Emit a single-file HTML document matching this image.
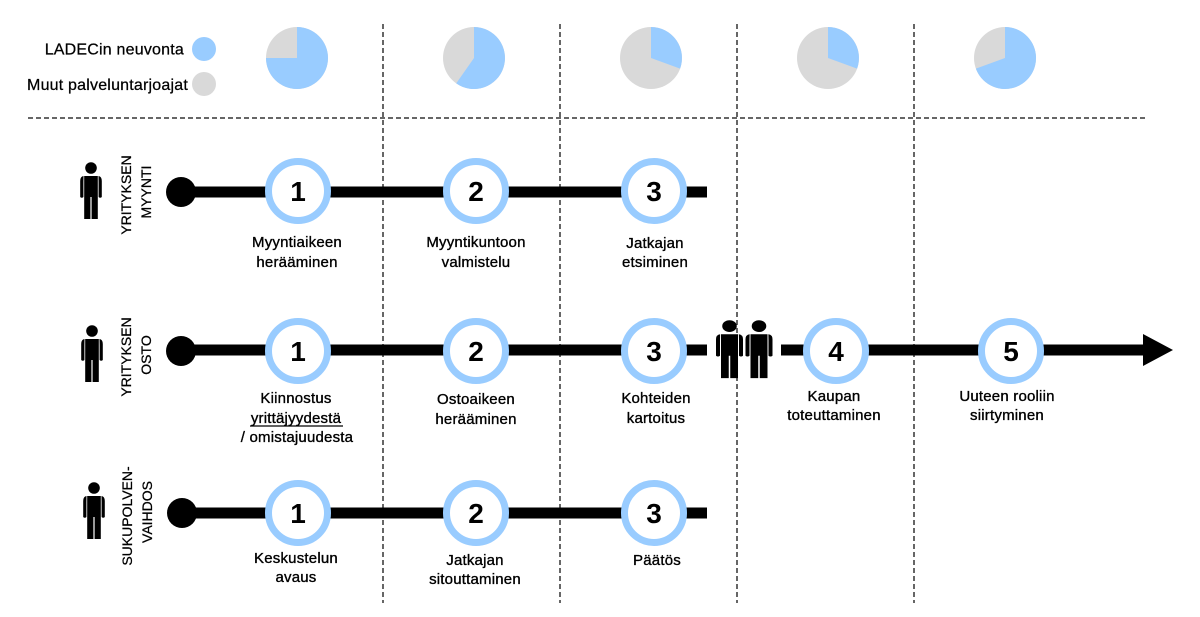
<!DOCTYPE html>
<html>
<head>
<meta charset="utf-8">
<style>
  html, body { margin:0; padding:0; background:#fff; }
  svg { display:block; }
  .lbl { font-family:"Liberation Sans", sans-serif; font-size:15px; fill:#000; letter-spacing:0.2px; text-anchor:middle; stroke:#000; stroke-width:0.35px; }
  .num { font-family:"Liberation Sans", sans-serif; font-size:28px; font-weight:bold; fill:#000; text-anchor:middle; }
  .vt { font-family:"Liberation Sans", sans-serif; font-size:14px; fill:#000; text-anchor:middle; stroke:#000; stroke-width:0.25px; }
  .leg { font-family:"Liberation Sans", sans-serif; font-size:16px; fill:#000; letter-spacing:0.2px; text-anchor:end; stroke:#000; stroke-width:0.25px; }
</style>
</head>
<body>
<svg width="1200" height="617" viewBox="0 0 1200 617" xmlns="http://www.w3.org/2000/svg">
  <defs>
    <g id="person">
      <circle cx="0" cy="6" r="5.8" fill="#000"/>
      <path fill="#000" d="M -6.8,14 L 6.8,14 L 6.8,57 L 0.6,57 L 0.6,35 L -0.6,35 L -0.6,57 L -6.8,57 Z"/>
      <path fill="#000" d="M -7.5,14 Q -10.8,14.5 -10.8,19 L -10.8,35 Q -9.2,36.5 -7.6,35 L -7.6,20 Z"/>
      <path fill="#000" d="M 7.5,14 Q 10.8,14.5 10.8,19 L 10.8,35 Q 9.2,36.5 7.6,35 L 7.6,20 Z"/>
    </g>
  </defs>

  <!-- dashed grid lines -->
  <g stroke="#333" stroke-width="1.5" stroke-dasharray="5 3" fill="none">
    <line x1="28" y1="118" x2="1147" y2="118"/>
    <line x1="383" y1="24" x2="383" y2="603"/>
    <line x1="560" y1="24" x2="560" y2="603"/>
    <line x1="737" y1="24" x2="737" y2="603"/>
    <line x1="914" y1="24" x2="914" y2="603"/>
  </g>

  <!-- legend -->
  <text class="leg" x="184" y="54.5">LADECin neuvonta</text>
  <circle cx="204" cy="49" r="12" fill="#99CCFF"/>
  <text class="leg" x="188" y="90">Muut palveluntarjoajat</text>
  <circle cx="204" cy="84" r="12" fill="#D9D9D9"/>

  <!-- pies -->
  <circle cx="297" cy="58" r="31" fill="#D9D9D9"/>
  <path d="M297,58 L297,27 A31,31 0 1,1 266,58 Z" fill="#99CCFF"/>

  <circle cx="474" cy="58" r="31" fill="#D9D9D9"/>
  <path d="M474,58 L474,27 A31,31 0 1,1 456.2,83.4 Z" fill="#99CCFF"/>

  <circle cx="651" cy="58" r="31" fill="#D9D9D9"/>
  <path d="M651,58 L651,27 A31,31 0 0,1 680.1,68.6 Z" fill="#99CCFF"/>

  <circle cx="828" cy="58" r="31" fill="#D9D9D9"/>
  <path d="M828,58 L828,27 A31,31 0 0,1 857.1,68.6 Z" fill="#99CCFF"/>

  <circle cx="1005" cy="58" r="31" fill="#D9D9D9"/>
  <path d="M1005,58 L1005,27 A31,31 0 1,1 975.9,68.6 Z" fill="#99CCFF"/>

  <!-- ROW 1 -->
  <use href="#person" x="91" y="162"/>
  <text class="vt" transform="translate(126,195) rotate(-90)" dy="0.36em">YRITYKSEN</text>
  <text class="vt" transform="translate(146,192) rotate(-90)" dy="0.36em">MYYNTI</text>
  <line x1="181" y1="192" x2="707" y2="192" stroke="#000" stroke-width="11"/>
  <circle cx="181" cy="192" r="15" fill="#000"/>
  <g fill="#fff" stroke="#99CCFF" stroke-width="7">
    <circle cx="298" cy="191" r="29.5"/>
    <circle cx="476" cy="191" r="29.5"/>
    <circle cx="654" cy="191" r="29.5"/>
  </g>
  <text class="num" x="298" y="201">1</text>
  <text class="num" x="476" y="201">2</text>
  <text class="num" x="654" y="201">3</text>
  <text class="lbl" x="297" y="247">Myyntiaikeen</text>
  <text class="lbl" x="297" y="267">herääminen</text>
  <text class="lbl" x="476" y="247">Myyntikuntoon</text>
  <text class="lbl" x="476" y="267">valmistelu</text>
  <text class="lbl" x="655" y="248">Jatkajan</text>
  <text class="lbl" x="655" y="267">etsiminen</text>

  <!-- ROW 2 -->
  <use href="#person" x="92" y="325"/>
  <text class="vt" transform="translate(126,357) rotate(-90)" dy="0.36em">YRITYKSEN</text>
  <text class="vt" transform="translate(146,355) rotate(-90)" dy="0.36em">OSTO</text>
  <line x1="181" y1="350" x2="707" y2="350" stroke="#000" stroke-width="11"/>
  <line x1="781" y1="350" x2="1144" y2="350" stroke="#000" stroke-width="11"/>
  <polygon points="1143,334 1173,350 1143,366" fill="#000"/>
  <circle cx="181" cy="351" r="15" fill="#000"/>
  <g transform="translate(729.5,320) scale(1.25,1.02)"><use href="#person"/></g>
  <g transform="translate(759,320) scale(1.25,1.02)"><use href="#person"/></g>
  <g fill="#fff" stroke="#99CCFF" stroke-width="7">
    <circle cx="298" cy="351" r="29.5"/>
    <circle cx="476" cy="351" r="29.5"/>
    <circle cx="654" cy="351" r="29.5"/>
    <circle cx="836" cy="351" r="29.5"/>
    <circle cx="1011" cy="351" r="29.5"/>
  </g>
  <text class="num" x="298" y="361">1</text>
  <text class="num" x="476" y="361">2</text>
  <text class="num" x="654" y="361">3</text>
  <text class="num" x="836" y="361">4</text>
  <text class="num" x="1011" y="361">5</text>
  <text class="lbl" x="296" y="403">Kiinnostus</text>
  <text class="lbl" x="296" y="423">yrittäjyydestä</text>
  <line x1="250" y1="426" x2="343" y2="426" stroke="#000" stroke-width="1.2"/>
  <text class="lbl" x="297" y="442">/ omistajuudesta</text>
  <text class="lbl" x="476" y="404">Ostoaikeen</text>
  <text class="lbl" x="476" y="424">herääminen</text>
  <text class="lbl" x="656" y="403">Kohteiden</text>
  <text class="lbl" x="656" y="423">kartoitus</text>
  <text class="lbl" x="834" y="401">Kaupan</text>
  <text class="lbl" x="834" y="420">toteuttaminen</text>
  <text class="lbl" x="1007" y="401">Uuteen rooliin</text>
  <text class="lbl" x="1007" y="420">siirtyminen</text>

  <!-- ROW 3 -->
  <use href="#person" x="94" y="482"/>
  <text class="vt" transform="translate(127,516) rotate(-90)" dy="0.36em">SUKUPOLVEN-</text>
  <text class="vt" transform="translate(147,512) rotate(-90)" dy="0.36em">VAIHDOS</text>
  <line x1="181" y1="513" x2="707" y2="513" stroke="#000" stroke-width="11"/>
  <circle cx="182" cy="513" r="15" fill="#000"/>
  <g fill="#fff" stroke="#99CCFF" stroke-width="7">
    <circle cx="298" cy="513" r="29.5"/>
    <circle cx="476" cy="513" r="29.5"/>
    <circle cx="654" cy="513" r="29.5"/>
  </g>
  <text class="num" x="298" y="523">1</text>
  <text class="num" x="476" y="523">2</text>
  <text class="num" x="654" y="523">3</text>
  <text class="lbl" x="296" y="563">Keskustelun</text>
  <text class="lbl" x="296" y="582">avaus</text>
  <text class="lbl" x="475" y="565">Jatkajan</text>
  <text class="lbl" x="475" y="584">sitouttaminen</text>
  <text class="lbl" x="657" y="565">Päätös</text>
</svg>
</body>
</html>
